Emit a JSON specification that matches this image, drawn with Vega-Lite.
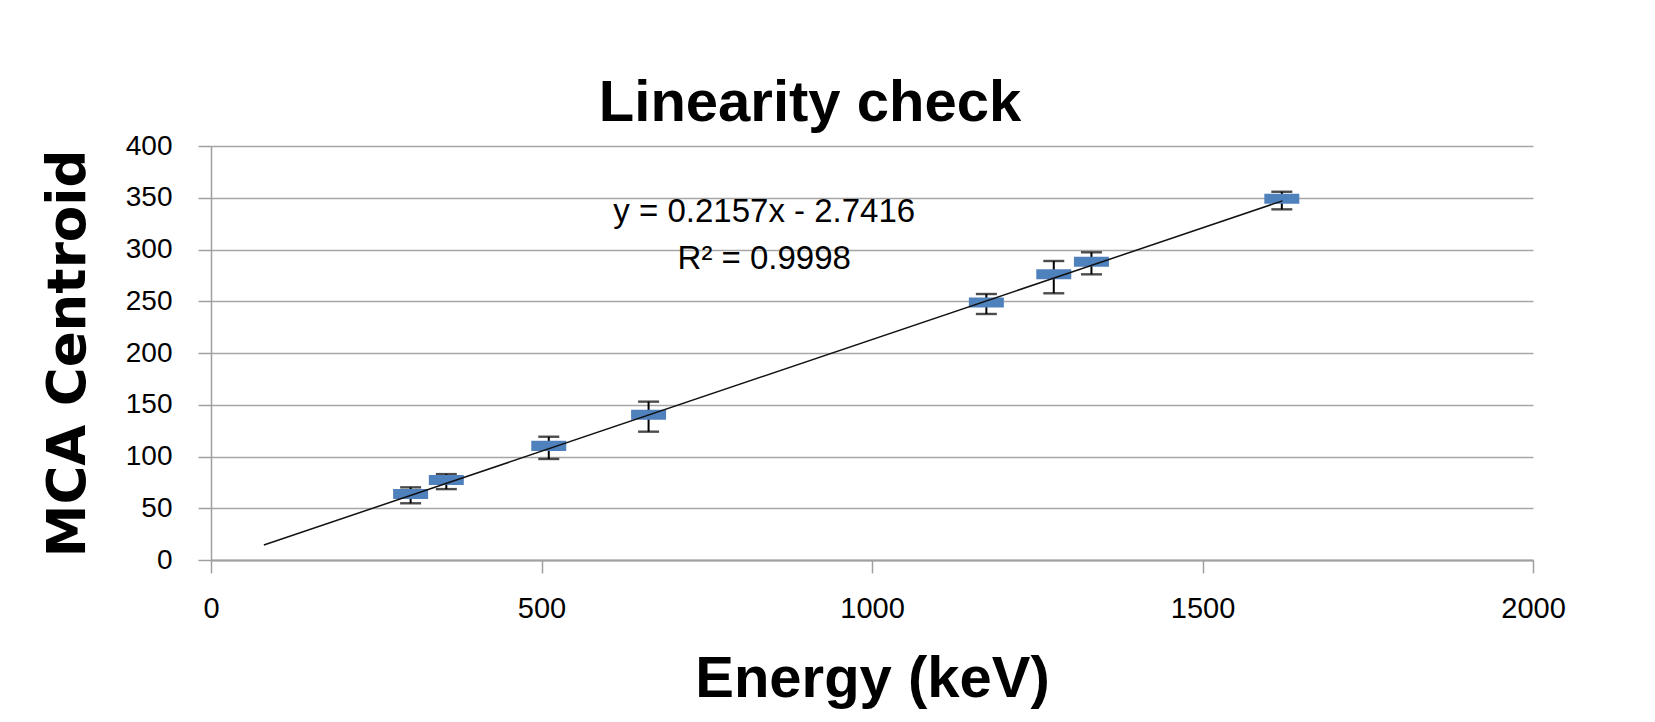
{
  "$schema": "https://vega.github.io/schema/vega-lite/v6.json",
  "width": 1322,
  "height": 414,
  "autosize": {"type": "none"},
  "padding": {"left": 211, "top": 146, "right": 122, "bottom": 162},
  "background": "white",
  "config": {
    "view": {"stroke": null},
    "font": "Liberation Sans"
  },
  "title": {
    "text": "Linearity check",
    "font": "Liberation Sans",
    "fontSize": 58,
    "fontWeight": "bold",
    "color": "#000000",
    "anchor": "middle",
    "frame": "group",
    "dx": -62,
    "offset": -1
  },
  "datasets": {
    "points": [
      {"energy": 302, "centroid": 63.8, "lo": 54.8, "hi": 70.2},
      {"energy": 356, "centroid": 77.3, "lo": 68.5, "hi": 83.0},
      {"energy": 511, "centroid": 110.3, "lo": 97.6, "hi": 119.1},
      {"energy": 662, "centroid": 140.3, "lo": 124.0, "hi": 153.0},
      {"energy": 1173, "centroid": 248.8, "lo": 237.7, "hi": 257.0},
      {"energy": 1275, "centroid": 276.1, "lo": 257.7, "hi": 288.9},
      {"energy": 1332, "centroid": 288.2, "lo": 276.0, "hi": 297.3},
      {"energy": 1620, "centroid": 349.0, "lo": 338.8, "hi": 355.8}
    ],
    "trend": [
      {"energy": 80, "centroid": 14.5},
      {"energy": 1621, "centroid": 347.0}
    ],
    "labels": [
      {"energy": 837, "centroid": 326.5, "text": "y = 0.2157x - 2.7416"},
      {"energy": 837, "centroid": 281.0, "text": "R² = 0.9998"}
    ]
  },
  "layer": [
    {
      "data": {"name": "points"},
      "mark": {"type": "rule", "color": "#000000", "strokeWidth": 2},
      "encoding": {
        "x": {
          "field": "energy", "type": "quantitative",
          "scale": {"domain": [0, 2000], "nice": false},
          "axis": {
            "title": "Energy (keV)",
            "titleFont": "Liberation Sans",
            "titleFontSize": 58,
            "titleFontWeight": "bold",
            "titleColor": "#000000",
            "titlePadding": 27,
            "values": [0, 500, 1000, 1500, 2000],
            "format": "d",
            "grid": false,
            "domainColor": "#a0a0a0",
            "domainWidth": 2,
            "tickColor": "#a0a0a0",
            "tickWidth": 1.5,
            "tickSize": 13,
            "labelFont": "Liberation Sans",
            "labelFontSize": 29,
            "labelColor": "#000000",
            "labelPadding": 21,
            "labelFlush": false
          }
        },
        "y": {
          "field": "lo", "type": "quantitative",
          "scale": {"domain": [0, 400], "nice": false},
          "axis": {
            "title": "MCA Centroid",
            "titleFont": "DejaVu Sans",
            "titleFontSize": 53,
            "titleFontWeight": "bold",
            "titleColor": "#000000",
            "titlePadding": 30,
            "values": [0, 50, 100, 150, 200, 250, 300, 350, 400],
            "grid": true,
            "gridColor": "#a6a6a6",
            "gridWidth": 1.5,
            "domainColor": "#a0a0a0",
            "domainWidth": 1.5,
            "tickColor": "#a0a0a0",
            "tickWidth": 1.5,
            "tickSize": 13,
            "labelFont": "Liberation Sans",
            "labelFontSize": 28,
            "labelColor": "#000000",
            "labelPadding": 26,
            "labelFlush": false
          }
        },
        "y2": {"field": "hi"}
      }
    },
    {
      "data": {"name": "points"},
      "mark": {"type": "tick", "orient": "horizontal", "color": "#000000", "size": 21, "thickness": 2.4},
      "encoding": {
        "x": {"field": "energy", "type": "quantitative"},
        "y": {"field": "lo", "type": "quantitative"}
      }
    },
    {
      "data": {"name": "points"},
      "mark": {"type": "tick", "orient": "horizontal", "color": "#000000", "size": 21, "thickness": 2.4},
      "encoding": {
        "x": {"field": "energy", "type": "quantitative"},
        "y": {"field": "hi", "type": "quantitative"}
      }
    },
    {
      "data": {"name": "points"},
      "mark": {
        "type": "point",
        "shape": "M-1,-0.29H1V0.29H-1Z",
        "size": 1225,
        "filled": true,
        "color": "#4f81bd",
        "opacity": 1
      },
      "encoding": {
        "x": {"field": "energy", "type": "quantitative"},
        "y": {"field": "centroid", "type": "quantitative"}
      }
    },
    {
      "data": {"name": "trend"},
      "mark": {"type": "line", "color": "#111111", "strokeWidth": 1.5},
      "encoding": {
        "x": {"field": "energy", "type": "quantitative"},
        "y": {"field": "centroid", "type": "quantitative"}
      }
    },
    {
      "data": {"name": "labels"},
      "mark": {"type": "text", "font": "Liberation Sans", "fontSize": 33, "color": "#000000", "align": "center", "baseline": "alphabetic"},
      "encoding": {
        "x": {"field": "energy", "type": "quantitative"},
        "y": {"field": "centroid", "type": "quantitative"},
        "text": {"field": "text"}
      }
    }
  ]
}
